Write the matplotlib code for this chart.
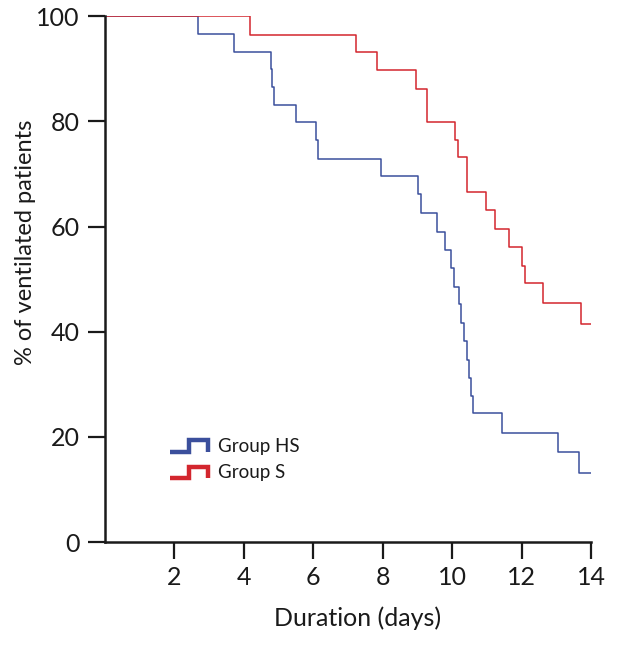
import numpy as np
import matplotlib
matplotlib.use('Agg')
import matplotlib.pyplot as plt
from matplotlib.legend_handler import HandlerBase
from matplotlib.lines import Line2D

# Kaplan-Meier style step data (days, % still ventilated)
hs_days = [0, 2.68, 3.73, 4.78, 4.82, 4.86, 5.50, 6.08, 6.12, 7.96, 9.02, 9.09,
           9.57, 9.80, 9.97, 10.05, 10.18, 10.26, 10.34, 10.41, 10.48, 10.55,
           10.60, 11.44, 13.03, 13.64, 14.0]
hs_pct = [100, 96.7, 93.2, 89.9, 86.5, 83.2, 79.9, 76.4, 72.8, 69.6, 66.1, 62.6,
          59.0, 55.5, 52.1, 48.5, 45.2, 41.6, 38.2, 34.7, 31.3, 27.8,
          24.5, 20.8, 17.2, 13.1, 13.1]

s_days = [0, 4.19, 7.22, 7.83, 8.97, 9.27, 10.08, 10.17, 10.43, 10.98, 11.23,
          11.62, 12.00, 12.08, 12.60, 13.70, 14.0]
s_pct = [100, 96.5, 93.2, 89.8, 86.2, 79.8, 76.5, 73.2, 66.5, 63.1, 59.5,
         56.1, 52.6, 49.3, 45.4, 41.4, 41.4]

x_ticks = [2, 4, 6, 8, 10, 12, 14]
y_ticks = [0, 20, 40, 60, 80, 100]

blue = '#3b4f9c'
red = '#d3262e'
ink = '#1a1a1a'
font = ['Lato', 'DejaVu Sans']


class StepHandler(HandlerBase):
    # little step-shaped legend key like in the original figure
    def create_artists(self, legend, orig_handle, xdescent, ydescent,
                       width, height, fontsize, trans):
        lo = -ydescent + 0.0 * height
        hi = -ydescent + 0.9 * height
        xs = [-xdescent, -xdescent + 0.5 * width, -xdescent + 0.5 * width,
              -xdescent + width, -xdescent + width]
        ys = [lo, lo, hi, hi, lo]
        ln = Line2D(xs, ys, color=orig_handle.get_color(), linewidth=3.2,
                    solid_joinstyle='miter', solid_capstyle='butt',
                    transform=trans)
        return [ln]


fig = plt.figure(figsize=(6.21, 6.47), dpi=100)
ax = fig.add_axes([0.169, 0.162, 0.783, 0.813])

l1, = ax.step(hs_days, hs_pct, where='post', color=blue, linewidth=1.1)
l2, = ax.step(s_days, s_pct, where='post', color=red, linewidth=1.1)

ax.set_xlim(0, 14)
ax.set_ylim(0, 100)
ax.set_xticks(x_ticks)
ax.set_yticks(y_ticks)
for sp in ['top', 'right']:
    ax.spines[sp].set_visible(False)
for sp in ['left', 'bottom']:
    ax.spines[sp].set_linewidth(1.8)
    ax.spines[sp].set_color(ink)
ax.tick_params(axis='both', direction='out', length=12, width=1.6,
               color=ink, labelsize=18, labelcolor=ink)
ax.tick_params(axis='y', pad=6)
ax.tick_params(axis='x', pad=5)
for lab in ax.get_xticklabels() + ax.get_yticklabels():
    lab.set_family(font)

ax.set_xlabel('Duration (days)', fontsize=18, family=font, color=ink)
ax.xaxis.set_label_coords(0.52, -0.122)
ax.set_ylabel('% of ventilated patients', fontsize=17, family=font, color=ink)
ax.yaxis.set_label_coords(-0.142, 0.57)

leg = ax.legend([l1, l2], ['Group HS', 'Group S'],
                handler_map={Line2D: StepHandler()},
                loc='upper left', bbox_to_anchor=(0.134, 0.198),
                borderaxespad=0, borderpad=0,
                frameon=False, handlelength=2.0, handletextpad=0.55,
                labelspacing=0.5, prop={'family': font, 'size': 13.5})
for t in leg.get_texts():
    t.set_color(ink)

plt.savefig('out.png', dpi=100)
plt.close()
